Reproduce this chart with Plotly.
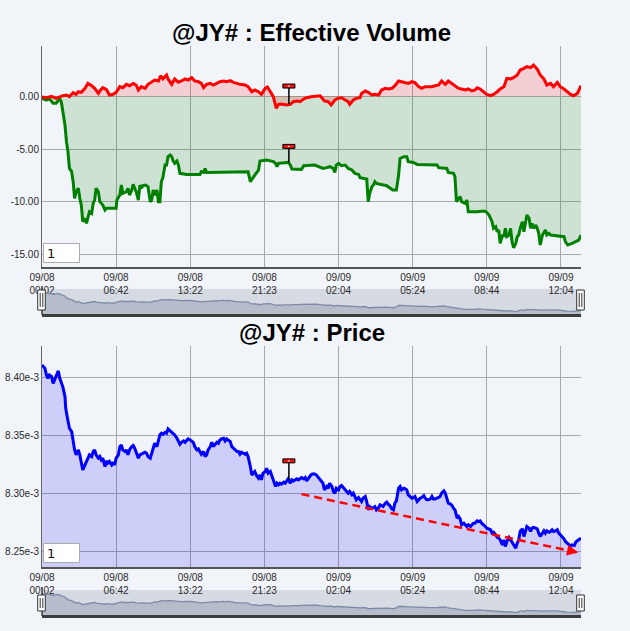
import plotly.graph_objects as go

W, H = 630, 631

# ---------------- data ----------------
tick_bars = [0, 100, 200, 300, 400, 500, 600, 700]
tick_text = ["09/08<br>00:02", "09/08<br>06:42", "09/08<br>13:22", "09/08<br>21:23",
             "09/09<br>02:04", "09/09<br>05:24", "09/09<br>08:44", "09/09<br>12:04"]

vol_ticks = [0, -5, -10, -15]
vol_tick_text = ["0.00", "-5.00", "-10.00", "-15.00"]
price_ticks = [8.25e-3, 8.30e-3, 8.35e-3, 8.40e-3]
price_tick_text = ["8.25e-3", "8.30e-3", "8.35e-3", "8.40e-3"]

# effective volume, buy side (red)
up_bar = [0, 6, 13, 19, 24, 28, 33, 37, 42, 46,
          49, 53, 58, 62, 67, 71, 76, 78, 82, 87,
          91, 96, 100, 105, 109, 114, 118, 123, 127, 130,
          134, 139, 143, 148, 152, 157, 160, 163, 168, 170,
          175, 179, 184, 188, 193, 197, 202, 206, 211, 215,
          218, 222, 227, 231, 236, 240, 245, 249, 254, 258,
          263, 267, 274, 278, 283, 287, 292, 296, 301, 304,
          308, 312, 316, 319, 323, 330, 335, 339, 344, 348,
          353, 357, 363, 368, 375, 381, 386, 390, 395, 399,
          404, 409, 413, 415, 420, 424, 429, 431, 436, 440,
          445, 449, 454, 458, 463, 467, 472, 476, 481, 485,
          490, 494, 499, 503, 508, 512, 517, 521, 526, 530,
          535, 539, 544, 548, 553, 557, 562, 566, 571, 575,
          580, 584, 587, 591, 596, 600, 605, 609, 614, 618,
          623, 627, 632, 636, 641, 645, 650, 654, 659, 663,
          668, 672, 677, 681, 686, 690, 695, 699, 704, 708,
          713, 717, 722, 727]
up_val = [-0.06, -0.13, 0.0, -0.19, -0.06, 0.06, 0.13, -0.03, 0.35, 0.19,
          0.44, 0.38, 0.76, 1.23, 1.01, 0.76, 0.28, 0.51, 0.82, 0.63,
          0.13, 0.19, 0.38, 0.92, 0.82, 1.14, 1.01, 1.23, 1.08, 0.60,
          0.92, 0.76, 1.14, 1.33, 1.55, 1.46, 1.96, 1.65, 2.03, 1.65,
          1.14, 1.65, 1.33, 1.46, 1.65, 1.55, 1.77, 1.46, 1.39, 1.23,
          0.82, 1.14, 1.23, 1.08, 1.27, 1.39, 1.46, 1.39, 1.49, 1.33,
          1.23, 1.14, 1.08, 0.92, 0.44, 0.60, 0.44, 0.19, 0.76, 0.89,
          0.44, -0.03, -1.14, -0.76, -0.73, -0.82, -0.76, -0.51, -0.44, -0.51,
          -0.25, -0.13, -0.03, 0.0, 0.06, -0.44, -0.51, -0.82, -0.35, -0.19,
          -0.13, -0.35, -0.51, -0.76, -0.35, -0.19, -0.13, 0.28, 0.51, 0.38,
          0.13, 0.19, 0.13, 0.60, 0.76, 0.70, 0.76, 1.01, 1.46, 1.39,
          1.33, 1.23, 1.39, 1.30, 0.92, 0.76, 0.92, 0.89, 0.92, 1.01,
          1.08, 1.46, 1.14, 1.46, 1.23, 1.01, 0.76, 0.70, 0.60, 0.70,
          0.51, 0.60, 0.82, 0.70, 0.38, 0.19, 0.06, 0.19, 0.44, 0.70,
          0.92, 1.71, 1.65, 1.77, 2.03, 2.50, 2.66, 2.82, 2.72, 2.97,
          2.59, 2.03, 1.65, 1.08, 1.23, 0.92, 1.33, 0.92, 0.70, 0.44,
          0.19, 0.06, 0.28, 1.01]

# effective volume, sell side (green)
dn_bar = [0, 6, 10, 15, 19, 24, 26, 28, 31, 33,
          35, 37, 40, 42, 44, 46, 49, 51, 53, 55,
          58, 60, 62, 64, 67, 69, 71, 73, 76, 78,
          80, 82, 85, 87, 100, 101, 105, 107, 109, 114,
          116, 118, 121, 123, 125, 127, 130, 132, 134, 136,
          140, 143, 146, 148, 150, 152, 155, 157, 159, 161,
          163, 166, 168, 170, 173, 175, 177, 179, 182, 184,
          186, 195, 213, 215, 218, 220, 222, 249, 278, 281,
          283, 285, 287, 292, 294, 303, 312, 315, 317, 319,
          332, 335, 337, 350, 353, 368, 375, 379, 384, 388,
          393, 395, 397, 400, 404, 409, 413, 418, 422, 427,
          429, 438, 440, 442, 445, 447, 449, 451, 465, 473,
          478, 481, 483, 488, 492, 494, 501, 506, 533, 535,
          546, 548, 555, 557, 559, 562, 564, 566, 571, 573,
          575, 587, 596, 599, 603, 605, 607, 609, 612, 614,
          616, 618, 621, 623, 625, 627, 630, 632, 634, 636,
          639, 641, 643, 645, 648, 650, 652, 654, 657, 659,
          661, 663, 666, 668, 670, 672, 675, 677, 679, 681,
          684, 686, 704, 706, 709, 715, 720, 724, 727]
dn_val = [-0.19, -0.35, -0.19, -0.66, -0.66, -0.25, -0.51, -1.46, -2.72, -4.30,
          -5.25, -6.84, -7.15, -8.10, -9.68, -9.05, -8.73, -9.68, -10.32, -11.90,
          -11.58, -12.06, -11.58, -10.95, -11.11, -10.16, -9.84, -8.73, -9.05, -10.00,
          -10.16, -10.32, -10.79, -10.63, -10.63, -9.84, -9.37, -8.42, -9.21, -9.05,
          -8.73, -9.37, -8.89, -8.35, -8.73, -9.05, -9.84, -8.42, -8.73, -8.48,
          -8.42, -8.58, -10.00, -9.84, -8.89, -9.37, -8.89, -10.00, -10.00, -8.10,
          -7.72, -6.52, -6.52, -5.73, -5.57, -5.73, -6.14, -6.36, -6.14, -6.52,
          -7.31, -7.41, -7.41, -7.15, -7.22, -6.84, -7.22, -7.22, -7.15, -8.10,
          -7.85, -7.63, -7.47, -7.00, -6.14, -6.04, -6.20, -6.36, -6.68, -6.36,
          -6.27, -6.52, -6.90, -6.93, -6.58, -6.52, -6.77, -6.84, -6.77, -6.68,
          -6.84, -7.22, -6.52, -6.36, -6.58, -6.52, -6.84, -6.99, -7.31, -7.41,
          -7.72, -7.85, -10.00, -9.21, -8.58, -8.42, -8.10, -8.26, -8.48, -8.89,
          -8.89, -7.47, -5.89, -5.73, -5.73, -6.20, -6.27, -6.46, -6.52, -6.77,
          -6.84, -7.22, -7.31, -7.63, -10.00, -9.75, -9.53, -10.00, -10.16, -9.84,
          -10.95, -10.95, -10.89, -10.95, -11.27, -11.58, -11.90, -12.53, -12.37, -12.85,
          -12.69, -13.96, -13.16, -13.32, -12.53, -13.32, -13.16, -12.53, -13.80, -14.37,
          -13.96, -13.32, -13.16, -12.53, -11.90, -12.85, -12.22, -11.27, -11.58, -12.53,
          -12.06, -12.53, -12.22, -12.53, -13.01, -14.11, -13.16, -12.85, -12.69, -13.16,
          -13.01, -13.16, -13.32, -13.80, -14.11, -13.96, -13.80, -13.64, -13.16]

# price (in units of 1e-3)
price_bar = [0, 4, 6, 8, 10, 13, 15, 17, 19, 22,
             24, 26, 28, 31, 32, 34, 37, 40, 42, 44,
             46, 49, 51, 53, 55, 58, 60, 62, 64, 67,
             69, 71, 73, 76, 78, 80, 82, 85, 87, 89,
             91, 94, 96, 98, 100, 103, 105, 107, 109, 112,
             114, 116, 118, 121, 123, 125, 127, 130, 132, 134,
             136, 139, 141, 143, 146, 148, 150, 152, 155, 157,
             159, 161, 163, 166, 168, 170, 173, 175, 177, 179,
             182, 184, 186, 188, 191, 193, 195, 197, 200, 202,
             204, 206, 209, 211, 213, 215, 218, 220, 222, 224,
             227, 229, 231, 233, 236, 238, 240, 242, 245, 247,
             249, 251, 254, 256, 258, 260, 263, 265, 267, 269,
             272, 274, 276, 278, 281, 283, 285, 287, 290, 292,
             294, 296, 298, 301, 303, 305, 308, 310, 312, 315,
             317, 319, 321, 323, 326, 328, 330, 332, 335, 337,
             339, 342, 344, 346, 348, 350, 353, 355, 357, 359,
             362, 364, 367, 370, 375, 379, 381, 384, 386, 388,
             391, 393, 395, 397, 400, 402, 404, 406, 409, 411,
             413, 415, 418, 420, 422, 424, 427, 429, 431, 433,
             436, 438, 440, 442, 445, 447, 449, 451, 454, 456,
             458, 460, 463, 465, 467, 469, 472, 474, 476, 478,
             481, 483, 485, 488, 490, 492, 494, 497, 499, 501,
             503, 506, 508, 510, 512, 515, 517, 519, 521, 524,
             526, 528, 530, 533, 535, 537, 539, 542, 544, 546,
             548, 551, 553, 555, 557, 560, 562, 564, 566, 569,
             571, 573, 575, 578, 580, 582, 584, 587, 589, 591,
             593, 596, 598, 600, 603, 605, 607, 609, 612, 614,
             616, 618, 621, 623, 625, 627, 630, 632, 634, 636,
             639, 641, 643, 645, 648, 650, 652, 654, 657, 659,
             661, 663, 666, 668, 670, 672, 675, 677, 679, 681,
             684, 686, 688, 690, 693, 695, 697, 699, 702, 704,
             706, 709, 711, 713, 715, 718, 720, 722, 724, 727]
price_e3 = [8.4106, 8.4077, 8.4020, 8.3991, 8.4020, 8.4006, 8.3948, 8.3977, 8.4020, 8.4055,
            8.3991, 8.3963, 8.3920, 8.3834, 8.3733, 8.3661, 8.3561, 8.3532, 8.3446, 8.3374,
            8.3331, 8.3374, 8.3331, 8.3274, 8.3202, 8.3245, 8.3274, 8.3303, 8.3331, 8.3317,
            8.3360, 8.3374, 8.3331, 8.3303, 8.3317, 8.3288, 8.3303, 8.3231, 8.3280, 8.3260,
            8.3274, 8.3245, 8.3268, 8.3245, 8.3303, 8.3331, 8.3403, 8.3417, 8.3374, 8.3360,
            8.3374, 8.3331, 8.3374, 8.3403, 8.3412, 8.3389, 8.3346, 8.3303, 8.3331, 8.3337,
            8.3346, 8.3354, 8.3346, 8.3317, 8.3303, 8.3346, 8.3374, 8.3432, 8.3403, 8.3460,
            8.3503, 8.3518, 8.3509, 8.3526, 8.3518, 8.3555, 8.3538, 8.3526, 8.3518, 8.3503,
            8.3475, 8.3452, 8.3423, 8.3440, 8.3452, 8.3440, 8.3452, 8.3469, 8.3460, 8.3452,
            8.3440, 8.3403, 8.3374, 8.3383, 8.3360, 8.3337, 8.3360, 8.3317, 8.3331, 8.3374,
            8.3403, 8.3440, 8.3403, 8.3417, 8.3440, 8.3432, 8.3460, 8.3469, 8.3475, 8.3452,
            8.3469, 8.3460, 8.3446, 8.3403, 8.3389, 8.3374, 8.3360, 8.3360, 8.3337, 8.3354,
            8.3346, 8.3337, 8.3346, 8.3317, 8.3231, 8.3159, 8.3173, 8.3188, 8.3145, 8.3130,
            8.3159, 8.3116, 8.3173, 8.3188, 8.3216, 8.3173, 8.3188, 8.3159, 8.3116, 8.3059,
            8.3087, 8.3073, 8.3087, 8.3079, 8.3096, 8.3087, 8.3102, 8.3125, 8.3087, 8.3116,
            8.3107, 8.3116, 8.3125, 8.3116, 8.3130, 8.3136, 8.3125, 8.3136, 8.3107, 8.3130,
            8.3153, 8.3165, 8.3168, 8.3159, 8.3116, 8.3087, 8.3030, 8.3059, 8.3044, 8.3087,
            8.3059, 8.3016, 8.3001, 8.3044, 8.3030, 8.3059, 8.3067, 8.3050, 8.3030, 8.3016,
            8.3001, 8.3016, 8.2987, 8.3001, 8.2973, 8.2944, 8.2964, 8.2944, 8.2929, 8.2958,
            8.2973, 8.2929, 8.2858, 8.2886, 8.2872, 8.2878, 8.2886, 8.2858, 8.2878, 8.2901,
            8.2895, 8.2886, 8.2915, 8.2924, 8.2907, 8.2895, 8.2866, 8.2858, 8.2915, 8.2935,
            8.3044, 8.3059, 8.3030, 8.3044, 8.3039, 8.3030, 8.2987, 8.2973, 8.2958, 8.2964,
            8.2973, 8.2929, 8.2944, 8.2958, 8.2964, 8.2981, 8.2958, 8.2944, 8.2944, 8.2952,
            8.2973, 8.2952, 8.2952, 8.2958, 8.2964, 8.2973, 8.3001, 8.3021, 8.3001, 8.2958,
            8.2915, 8.2907, 8.2895, 8.2872, 8.2858, 8.2786, 8.2800, 8.2780, 8.2729, 8.2743,
            8.2729, 8.2714, 8.2729, 8.2714, 8.2729, 8.2743, 8.2743, 8.2763, 8.2757, 8.2763,
            8.2743, 8.2729, 8.2714, 8.2700, 8.2694, 8.2686, 8.2657, 8.2665, 8.2642, 8.2620,
            8.2614, 8.2599, 8.2556, 8.2599, 8.2542, 8.2585, 8.2620, 8.2599, 8.2585, 8.2556,
            8.2528, 8.2571, 8.2599, 8.2671, 8.2694, 8.2628, 8.2671, 8.2714, 8.2700, 8.2671,
            8.2700, 8.2706, 8.2700, 8.2694, 8.2657, 8.2628, 8.2657, 8.2677, 8.2657, 8.2677,
            8.2665, 8.2671, 8.2686, 8.2671, 8.2677, 8.2686, 8.2657, 8.2642, 8.2628, 8.2608,
            8.2585, 8.2571, 8.2556, 8.2542, 8.2556, 8.2551, 8.2579, 8.2591, 8.2599, 8.2614]
price = [v * 1e-3 for v in price_e3]

# trend arrow (bar, price)
trend_bar = [350, 723]
trend_price = [8.2993e-3, 8.2490e-3]

# flag markers (bar, value)
flag_bar = 333
flag_up_val = -0.73
flag_dn_val = -6.27
flag_price_val = 8.3116e-3

# ---------------- layout helpers ----------------
BG = "#f1f4f8"
GRID = "#a9a9a9"
def px(x):
    return x / W
def py(y):
    return 1 - y / H

X0, X1 = 42, 581
XDOM = [px(X0), px(X1)]
XR = [0, 727]
LW = 3

fig = go.Figure()

# Effective volume
fig.add_trace(go.Scatter(x=dn_bar, y=dn_val, mode="lines", line=dict(color="#008000", width=LW),
                         fill="tozeroy", fillcolor="rgba(0,128,0,0.15)", xaxis="x", yaxis="y",
                         showlegend=False))
fig.add_trace(go.Scatter(x=up_bar, y=up_val, mode="lines", line=dict(color="#ff0000", width=LW),
                         fill="tozeroy", fillcolor="rgba(255,0,0,0.15)", xaxis="x", yaxis="y",
                         showlegend=False))
# top navigator
fig.add_trace(go.Scatter(x=price_bar, y=price, mode="lines", line=dict(color="#7e8aa8", width=1.3),
                         fill="tozeroy", fillcolor="#b7bccb", xaxis="x2", yaxis="y2",
                         hoverinfo="skip", showlegend=False))
# Price
fig.add_trace(go.Scatter(x=price_bar, y=price, mode="lines", line=dict(color="#0000ff", width=LW),
                         fill="tozeroy", fillcolor="rgba(0,0,255,0.15)", xaxis="x3", yaxis="y3",
                         showlegend=False))
fig.add_trace(go.Scatter(x=trend_bar, y=trend_price, mode="lines",
                         line=dict(color="#ff0000", width=2.5, dash="8px,5px"),
                         xaxis="x3", yaxis="y3", hoverinfo="skip", showlegend=False))
# bottom navigator
fig.add_trace(go.Scatter(x=price_bar, y=price, mode="lines", line=dict(color="#7e8aa8", width=1.3),
                         fill="tozeroy", fillcolor="#b7bccb", xaxis="x4", yaxis="y4",
                         hoverinfo="skip", showlegend=False))

tickfont = dict(family="Liberation Sans, Arial, sans-serif", size=10, color="#2a2a2a")

def main_x(anchor):
    return dict(domain=XDOM, range=XR, anchor=anchor, tickmode="array", tickvals=tick_bars,
                ticktext=tick_text, showgrid=True, gridcolor=GRID, gridwidth=1, zeroline=False,
                showline=True, linecolor="#555555", linewidth=2, ticks="", tickfont=tickfont,
                automargin=False, fixedrange=True)

def nav_x(anchor):
    return dict(domain=XDOM, range=XR, anchor=anchor, showgrid=False, zeroline=False,
                showline=False, showticklabels=False, ticks="", fixedrange=True)

nav_range = [8.2254e-3, 8.4413e-3]

fig.update_layout(
    width=W, height=H, margin=dict(l=0, r=0, t=0, b=0),
    paper_bgcolor=BG, plot_bgcolor=BG, showlegend=False,
    xaxis=main_x("y"),
    yaxis=dict(domain=[py(267), py(46)], range=[-16.2, 4.78], anchor="x", tickmode="array",
               tickvals=vol_ticks, ticktext=vol_tick_text, showgrid=True, gridcolor=GRID,
               zeroline=False, showline=True, linecolor="#666666", linewidth=1, ticks="",
               tickfont=tickfont, automargin=False, fixedrange=True),
    xaxis2=nav_x("y2"),
    yaxis2=dict(domain=[py(315), py(289)], range=nav_range, anchor="x2", showgrid=False,
                zeroline=False, showticklabels=False, ticks="", fixedrange=True),
    xaxis3=main_x("y3"),
    yaxis3=dict(domain=[py(567), py(346)], range=[8.2365e-3, 8.427e-3], anchor="x3",
                tickmode="array", tickvals=price_ticks, ticktext=price_tick_text, showgrid=True,
                gridcolor=GRID, zeroline=False, showline=True, linecolor="#666666", linewidth=1,
                ticks="", tickfont=tickfont, automargin=False, fixedrange=True),
    xaxis4=nav_x("y4"),
    yaxis4=dict(domain=[py(616), py(590)], range=nav_range, anchor="x4", showgrid=False,
                zeroline=False, showticklabels=False, ticks="", fixedrange=True),
)

shapes = []
# navigator backgrounds + bottom rules
for top, bot in [(289, 315), (590, 616)]:
    shapes.append(dict(type="rect", xref="paper", yref="paper", x0=px(X0), x1=px(X1),
                       y0=py(bot), y1=py(top), fillcolor="#d6dae3", line=dict(width=0), layer="below"))
    shapes.append(dict(type="line", xref="paper", yref="paper", x0=px(X0), x1=px(X1),
                       y0=py(bot + 0.5), y1=py(bot + 0.5), line=dict(color="#3c3c3c", width=3)))
    shapes.append(dict(type="line", xref="paper", yref="paper", x0=px(X0), x1=px(X0),
                       y0=py(bot), y1=py(top - 3), line=dict(color="#3c3c3c", width=1.5)))
# navigator handles
for top, bot in [(290, 310), (595, 611)]:
    for cx in [41.5, 580.5]:
        shapes.append(dict(type="rect", xref="paper", yref="paper", x0=px(cx - 3.8), x1=px(cx + 3.8),
                           y0=py(bot), y1=py(top), fillcolor="white", line=dict(color="#333333", width=1)))
        for dx in [-1.3, 1.3]:
            shapes.append(dict(type="line", xref="paper", yref="paper", x0=px(cx + dx), x1=px(cx + dx),
                               y0=py(bot - 3), y1=py(top + 3), line=dict(color="#333333", width=1)))
# "1" boxes
for top in [243.5, 543.5]:
    shapes.append(dict(type="rect", xref="paper", yref="paper", x0=px(43.5), x1=px(79.5),
                       y0=py(top + 19), y1=py(top), fillcolor="white", line=dict(color="#aaaaaa", width=1)))

# flags (pixel-sized, anchored at data points)
def flag(xr, yr, yanchor, stem):
    return [dict(type="line", xref=xr, yref=yr, xsizemode="pixel", ysizemode="pixel",
                 xanchor=flag_bar, yanchor=yanchor, x0=0, x1=0, y0=0, y1=stem,
                 line=dict(color="black", width=1.5)),
            dict(type="rect", xref=xr, yref=yr, xsizemode="pixel", ysizemode="pixel",
                 xanchor=flag_bar, yanchor=yanchor, x0=-6, x1=6, y0=stem, y1=stem + 4,
                 fillcolor="#ee1111", line=dict(color="black", width=1)),
            dict(type="line", xref=xr, yref=yr, xsizemode="pixel", ysizemode="pixel",
                 xanchor=flag_bar, yanchor=yanchor, x0=-1, x1=1, y0=stem + 2, y1=stem + 2,
                 line=dict(color="white", width=1))]
shapes += flag("x", "y", flag_up_val, 16)
shapes += flag("x", "y", flag_dn_val, 14)
shapes += flag("x3", "y3", flag_price_val, 17)

fig.update_layout(shapes=shapes)

annotations = [
    dict(text="<b>@JY# : Effective Volume</b>", xref="paper", yref="paper", x=px(311.5), y=py(33),
         xanchor="center", yanchor="middle", showarrow=False,
         font=dict(family="Liberation Sans, Arial, sans-serif", size=24, color="black")),
    dict(text="<b>@JY# : Price</b>", xref="paper", yref="paper", x=px(311.5), y=py(332),
         xanchor="center", yanchor="middle", showarrow=False,
         font=dict(family="Liberation Sans, Arial, sans-serif", size=24, color="black")),
    dict(text="", x=trend_bar[1], y=trend_price[1], xref="x3", yref="y3",
         ax=trend_bar[1] - 12, ay=trend_price[1] + 12 * (trend_price[0] - trend_price[1]) / (trend_bar[1] - trend_bar[0]),
         axref="x3", ayref="y3", showarrow=True, arrowhead=2, arrowsize=1.1, arrowwidth=2,
         arrowcolor="#ff0000"),
]
for top in [243.5, 543.5]:
    annotations.append(dict(text="1", xref="paper", yref="paper", x=px(45), y=py(top + 10),
                            xanchor="left", yanchor="middle", showarrow=False,
                            font=dict(family="DejaVu Sans, sans-serif", size=13, color="#111111")))
fig.update_layout(annotations=annotations)

fig.write_html("out.html", config={"displayModeBar": False},
               post_script="document.body.style.margin='0px';document.body.style.overflow='hidden';")
